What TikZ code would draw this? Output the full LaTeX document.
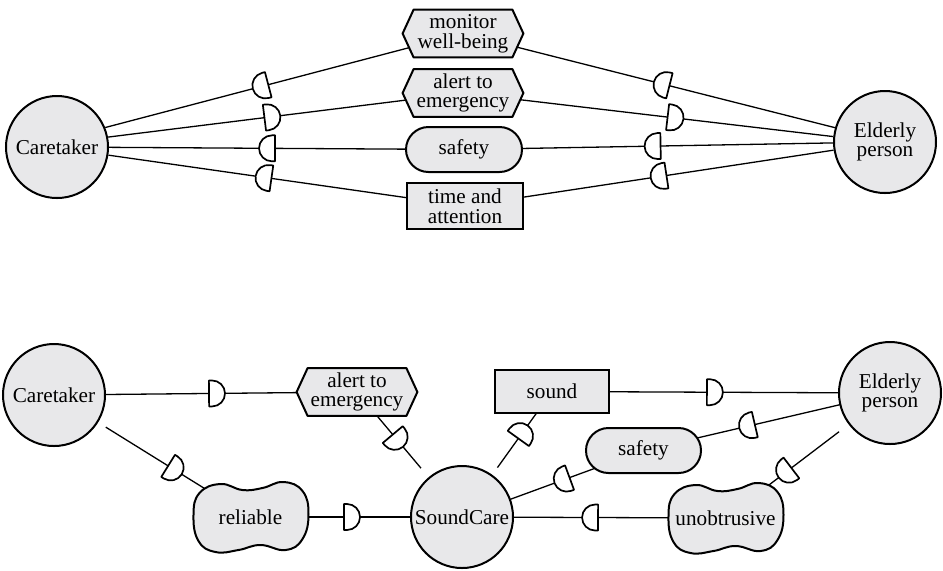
\documentclass[tikz,border=0pt]{standalone}
\usepackage{fontspec}
\setmainfont{Liberation Serif}
\usetikzlibrary{calc,decorations.markings}
\pgfdeclarelayer{bgl}
\pgfdeclarelayer{conn}
\pgfdeclarelayer{shp}
\pgfsetlayers{bgl,conn,shp,main}
\definecolor{ifill}{RGB}{232,232,234}
\tikzset{
  lbl/.style={font=\fontsize{10.6}{9.8}\selectfont, align=center, inner sep=0pt},
  actor/.style={lbl, circle, draw, line width=1pt, fill=ifill, minimum size=51pt},
  goal/.style={lbl, rectangle, rounded corners=11.25pt, draw, line width=1pt, fill=ifill, minimum width=58pt, minimum height=22.5pt},
  resource/.style={lbl, rectangle, draw, line width=1pt, fill=ifill, minimum width=58pt, minimum height=23pt},
  taskbox/.style={lbl, rectangle, minimum width=60pt, minimum height=23.5pt},
  softbox/.style={lbl, rectangle, minimum width=57.5pt, minimum height=35pt},
  outline/.style={draw, line width=1pt, fill=ifill, line join=round},
  conn/.style={draw, line width=0.65pt},
  dep/.style={postaction={decorate, decoration={markings, mark=at position #1 with {\draw[line width=0.85pt, fill=white, line join=round] (-4pt,-6.5pt) -- (-4pt,6.5pt) -- (-2.5pt,6.5pt) arc[start angle=90, end angle=-90, radius=6.5pt] -- cycle;}}}},
}
\newcommand\myhex[1]{\draw[outline] (#1.west) -- ([xshift=5.5pt]#1.north west) -- ([xshift=-5.5pt]#1.north east) -- (#1.east) -- ([xshift=-5.5pt]#1.south east) -- ([xshift=5.5pt]#1.south west) -- cycle;}
\newcommand\mypeanut[1]{\begin{scope}[shift={(#1.center)}]\draw[outline] plot[smooth cycle, tension=0.75] coordinates {(-57,-2) (-51,-24) (-30,-33) (-8,-27) (12,-29) (33,-35) (52,-26) (58,-3) (52,22) (35,33) (10,28) (-12,33) (-35,35) (-52,24)};\end{scope}}
\begin{document}
\begin{tikzpicture}[x=0.5pt, y=-0.5pt]
\useasboundingbox (0,0) rectangle (943,570);
\begin{pgfonlayer}{bgl}
\fill[white] (0,0) rectangle (943,570);
\end{pgfonlayer}

% ---------- top diagram ----------
\node[actor] (ct1) at (57,147) {Caretaker};
\node[actor] (ep1) at (885,142) {Elderly\\person};
\node[taskbox] (mon) at (463,33.5) {monitor\\well-being};
\node[taskbox] (alt1) at (463,93) {alert to\\emergency};
\node[goal] (saf1) at (464,149.5) {safety};
\node[resource] (tim) at (465,206) {time and\\attention};

% ---------- bottom diagram ----------
\node[actor] (ct2) at (54,395) {Caretaker};
\node[actor] (ep2) at (890,393) {Elderly\\person};
\node[actor] (sc) at (462,517) {SoundCare};
\node[taskbox] (alt2) at (357,392) {alert to\\emergency};
\node[resource, minimum width=57pt, minimum height=21.5pt] (snd) at (552,391.5) {sound};
\node[goal, minimum width=57.5pt] (saf2) at (643.5,450.5) {safety};
\node[softbox] (rel) at (250.5,517) {reliable};
\node[softbox] (uno) at (725.5,518) {unobtrusive};

\coordinate (g1) at ($(ct2.center)!30.5pt!(rel.center)$);
\coordinate (g2) at ($(sc.center)!31.9pt!(alt2.center)$);
\coordinate (g3) at ($(sc.center)!30.4pt!(snd.center)$);
\coordinate (g4) at ($(ep2.center)!32pt!(uno.center)$);

\begin{pgfonlayer}{shp}
\myhex{mon}
\myhex{alt1}
\myhex{alt2}
\mypeanut{rel}
\mypeanut{uno}
\end{pgfonlayer}

\begin{pgfonlayer}{conn}
% top
\draw[conn, dep=0.466] (ep1.164) -- (mon.center);
\draw[conn, dep=0.566] (mon.center) -- (ct1.22);
\draw[conn, dep=0.463] (ct1.11) -- (alt1.center);
\draw[conn, dep=0.574] (alt1.center) -- (ep1.174);
\draw[conn, dep=0.489] (ep1.181) -- (saf1.center);
\draw[conn, dep=0.484] (saf1.center) -- (ct1.center);
\draw[conn, dep=0.475] (ep1.189) -- (tim.center);
\draw[conn, dep=0.565] (tim.center) -- (ct1.-9);
% bottom
\draw[conn, dep=0.538] (ct2.center) -- (alt2.center);
\draw[conn, dep=0.64] (alt2.center) -- (g2);
\draw[conn, dep=0.478] (g1) -- (rel.center);
\draw[conn, dep=0.48] (rel.center) -- (sc.center);
\draw[conn, dep=0.469] (g3) -- (snd.center);
\draw[conn, dep=0.482] (snd.center) -- (ep2.center);
\draw[conn, dep=0.58] (ep2.center) -- (saf2.center);
\draw[conn, dep=0.449] (saf2.center) -- (sc.center);
\draw[conn, dep=0.476] (g4) -- (uno.center);
\draw[conn, dep=0.514] (uno.center) -- (sc.center);
\end{pgfonlayer}
\end{tikzpicture}
\end{document}
